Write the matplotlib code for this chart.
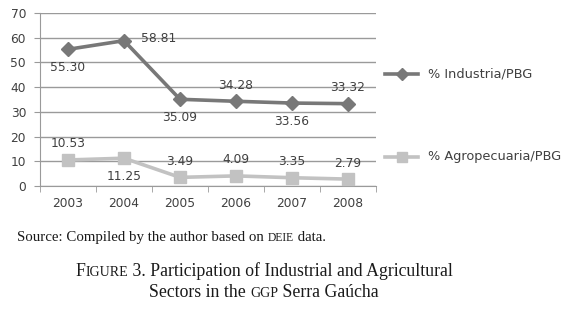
import matplotlib
matplotlib.use("Agg")
import matplotlib.pyplot as plt
import numpy as np

years = ["2003", "2004", "2005", "2006", "2007", "2008"]
industria = [55.30, 58.81, 35.09, 34.28, 33.56, 33.32]
agro = [10.53, 11.25, 3.49, 4.09, 3.35, 2.79]
ind_label = "% Industria/PBG"
agro_label = "% Agropecuaria/PBG"
yticks = [0, 10, 20, 30, 40, 50, 60, 70]

W, H = 567, 311
fig = plt.figure(figsize=(W / 100, H / 100), dpi=100)
fig.patch.set_facecolor("white")
ax = fig.add_axes([40 / W, 1 - 186 / H, (376 - 40) / W, (186 - 13) / H])

x = np.arange(len(years))
ind_color = "#787878"
agro_color = "#c2c2c2"
lw = 2.6
l1, = ax.plot(x, industria, color=ind_color, lw=lw, marker="D", ms=7,
              markeredgecolor=ind_color, markerfacecolor=ind_color, zorder=3)
l2, = ax.plot(x, agro, color=agro_color, lw=lw, marker="s", ms=8.5,
              markeredgecolor=agro_color, markerfacecolor=agro_color, zorder=3)

ax.set_xlim(-0.5, len(years) - 0.5)
ax.set_ylim(0, 70)
ax.set_yticks(yticks)
ax.set_xticks(x)
ax.set_xticklabels(years)
ax.grid(axis="y", color="#9a9a9a", lw=1.0)
ax.set_axisbelow(True)
for s in ["top", "right"]:
    ax.spines[s].set_visible(False)
ax.spines["left"].set_color("#9a9a9a")
ax.spines["bottom"].set_color("#9a9a9a")
fs = 8.8
ax.tick_params(axis="x", length=0, labelsize=fs, colors="#404040", pad=8)
ax.tick_params(axis="y", length=4, labelsize=fs, colors="#404040", pad=6,
               color="#9a9a9a", direction="out")
ax.set_xticks(np.arange(-0.5, len(years)), minor=True)
ax.tick_params(axis="x", which="minor", length=4, color="#9a9a9a", direction="out")

txtc = "#404040"
ind_off = [(0, -18), (35, 2), (0, -18), (0, 16), (0, -18), (0, 16)]
agro_off = [(0, 16), (0, -18), (0, 16), (0, 16), (0, 16), (0, 16)]
for i, v in enumerate(industria):
    ax.annotate(f"{v:.2f}", (x[i], v), xytext=ind_off[i], textcoords="offset pixels",
                ha="center", va="center", fontsize=fs, color=txtc)
for i, v in enumerate(agro):
    ax.annotate(f"{v:.2f}", (x[i], v), xytext=agro_off[i], textcoords="offset pixels",
                ha="center", va="center", fontsize=fs, color=txtc)

def leg(y, color, marker, ms, label):
    yy = 1 - y / H
    fig.add_artist(plt.Line2D([385 / W, 418 / W], [yy, yy], color=color, lw=lw,
                              transform=fig.transFigure))
    fig.add_artist(plt.Line2D([401.5 / W], [yy], color=color, marker=marker, ms=ms,
                              markeredgecolor=color, transform=fig.transFigure))
    fig.text(428 / W, yy, label, fontsize=9.3, color=txtc, va="center", ha="left")

leg(74, ind_color, "D", 6.5, ind_label)
leg(157, agro_color, "s", 7.5, agro_label)

serif = "Liberation Serif"
def smallcaps_line(pieces, y_px, x_px, align):
    texts = []
    for s, sz in pieces:
        t = fig.text(0, 1 - y_px / H, s, fontsize=sz, family=serif, color="#1a1a1a",
                     va="baseline", ha="left")
        texts.append(t)
    fig.canvas.draw()
    r = fig.canvas.get_renderer()
    widths = [t.get_window_extent(r).width for t in texts]
    total = sum(widths)
    start = x_px - total / 2 if align == "center" else x_px
    cur = start
    for t, w in zip(texts, widths):
        t.set_x(cur / W)
        cur += w

big = 10.7
small = big * 0.78
smallcaps_line([("Source: Compiled by the author based on ", big), ("DEIE", small),
                (" data.", big)], 241, 17, "left")
cap = 12.8
csm = cap * 0.78
smallcaps_line([("F", cap), ("IGURE", csm), (" 3. Participation of Industrial and Agricultural", cap)],
               276, 264, "center")
smallcaps_line([("Sectors in the ", cap), ("GGP", csm), (" Serra Gaúcha", cap)],
               297, 264, "center")

fig.savefig("out.png", dpi=100, facecolor="white")
